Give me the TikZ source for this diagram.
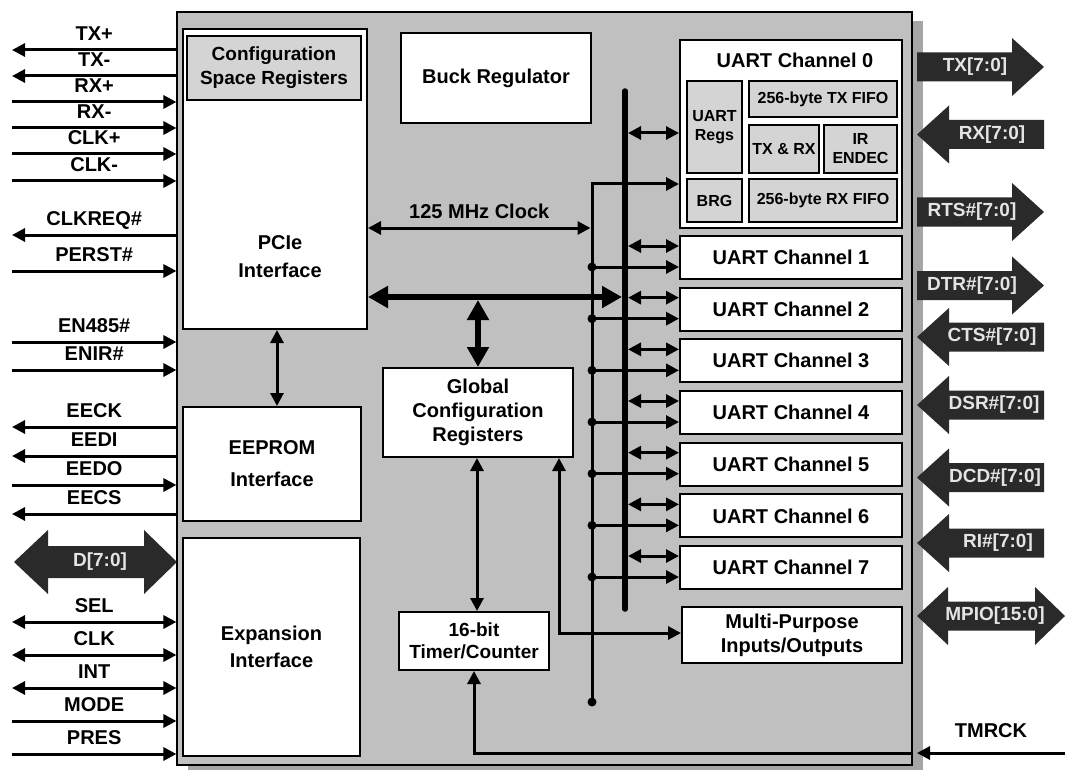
\documentclass[tikz,border=0pt]{standalone}
\usepackage{fontspec}
\setmainfont{Liberation Sans}
\usetikzlibrary{arrows.meta,shadows}

\definecolor{chipgray}{HTML}{C0C0C0}
\definecolor{shadegray}{HTML}{A6A6A6}
\definecolor{subgray}{HTML}{D4D4D4}
\definecolor{busdark}{HTML}{2A2A2A}
\definecolor{buslight}{HTML}{E4E4E4}

\tikzset{
  blk/.style={draw, fill=white, line width=2pt, align=center, inner sep=2pt},
  subblk/.style={blk, fill=subgray, font=\fontsize{16}{19}\selectfont\bfseries},
  sig/.style={line width=3pt, >={Triangle[length=13pt,width=13pt]}},
  fat/.style={line width=5.5pt, >={Triangle[length=20pt,width=21pt]}},
  lbl/.style={inner sep=2pt, text depth=6pt},
  fatlbl/.style={text=buslight, inner sep=0pt, font=\fontsize{19}{22}\selectfont\bfseries},
}

\begin{document}
\begin{tikzpicture}[x=1pt, y=-1pt, font=\fontsize{20}{24}\selectfont\bfseries]
        \useasboundingbox (0,0) rectangle (1065,770);

        % Chip outline with shadow
        \node[draw, line width=1.2pt, fill=chipgray, minimum width=735pt, minimum height=753pt,
              drop shadow={shadow xshift=11pt, shadow yshift=-9pt, fill=shadegray, opacity=1}]
              (chip) at (544.5,388.5) {};

        % PCIe side
        \node[blk, minimum width=184pt, minimum height=300pt] (pcie) at (275,179) {};
        \node[subblk, minimum width=174pt, minimum height=64pt, font=\fontsize{19}{24}\selectfont\bfseries]
              (cfgspace) at (274,68) {Configuration\\Space Registers};
        \node[align=center, font=\fontsize{20}{28}\selectfont\bfseries] (pcielbl) at (280,257) {PCIe\\Interface};
        \node[blk, minimum width=178pt, minimum height=114pt, font=\fontsize{20}{32}\selectfont\bfseries]
              (eeprom) at (272,464) {EEPROM\\Interface};
        \node[blk, minimum width=177pt, minimum height=218pt, font=\fontsize{20}{27}\selectfont\bfseries]
              (expansion) at (271.5,647) {Expansion\\Interface};

        % Middle blocks
        \node[blk, minimum width=190pt, minimum height=90pt] (buck) at (496,78) {Buck Regulator};
        \node[blk, minimum width=190pt, minimum height=89pt] (gcr) at (478,412.5) {Global\\Configuration\\Registers};
        \node[blk, minimum width=150pt, minimum height=58pt, font=\fontsize{19}{22}\selectfont\bfseries]
              (timer) at (474,641) {16-bit\\Timer/Counter};

        % UART channel 0 in detail
        \node[blk, minimum width=222pt, minimum height=188pt] (uart0) at (791,134) {};
        \node (u0title) at (795,60) {UART Channel 0};
        \node[subblk, minimum width=55pt, minimum height=92pt] (uregs) at (714.5,127) {UART\\Regs};
        \node[subblk, minimum width=148pt, minimum height=36pt] (txfifo) at (823,99) {256-byte TX FIFO};
        \node[subblk, minimum width=70pt, minimum height=48pt] (txrx) at (784,149) {TX \& RX};
        \node[subblk, minimum width=73pt, minimum height=48pt] (irendec) at (860.5,149) {IR\\ENDEC};
        \node[subblk, minimum width=55pt, minimum height=43pt] (brg) at (714.5,200.5) {BRG};
        \node[subblk, minimum width=148pt, minimum height=43pt] (rxfifo) at (823,200.5) {256-byte RX FIFO};

        \node[blk, minimum width=220pt, minimum height=56pt] (mpio) at (792,635) {Multi-Purpose\\Inputs/Outputs};

        % Internal bus and control line
        \coordinate (bustop) at (625,91);
        \coordinate (busbot) at (625,609);
        \coordinate (ctltop) at (592,184);
        \coordinate (ctlbot) at (592,702);
        \draw[line width=5.5pt, line cap=round] (bustop) -- (busbot);
        \draw[sig,->] (ctlbot) -- (ctltop) -- (uart0.west |- ctltop);
        \fill (ctlbot) circle (4.5);
        \draw[sig,<->] (628,133) -- (uart0.west |- 0,133);

        % UART channels 1-7
        \foreach \i in {1,...,7} {
          \pgfmathsetmacro{\ytop}{236+51.67*(\i-1)}
          \node[blk, minimum width=222pt, minimum height=43pt] (uart\i) at (791,\ytop+21.5) {UART Channel \i};
          \draw[sig,<->] (628,\ytop+10) -- (uart\i.west |- 0,\ytop+10);
          \draw[sig,->] (592,\ytop+31) -- (uart\i.west |- 0,\ytop+31);
          \fill (592,\ytop+31) circle (4.5);
        }

        % Internal connections
        \draw[sig,<->] (pcie.east |- 0,228) -- (590.5,228) node[lbl, midway, above] (clklbl) {125 MHz Clock};
        \draw[fat,<->] (pcie.east |- 0,297) -- (622,297);
        \draw[fat,<->] (478,300) -- (gcr.north);
        \draw[sig,<->] (pcie.south -| 277,0) -- (eeprom.north -| 277,0);
        \draw[sig,<->] (gcr.south -| 477,0) -- (timer.north -| 477,0);
        \draw[sig,<->] (gcr.south -| 559,0) |- (mpio.west |- 0,633);

        % Timer clock input
        \coordinate (tmrck) at (1065,753);
        \draw[sig,->] (tmrck) -- (917,753) node[lbl, midway, above=6pt] (tmrcklbl) {TMRCK};
        \draw[sig,->] (chip.east |- tmrck) -| (timer.south);

        % Left side signals
        \foreach \y/\sname [count=\k] in {50/TX+, 76/TX-, 235/CLKREQ\#, 427/EECK, 456/EEDI, 514/EECS} {
          \draw[sig,<-] (12,\y) -- (chip.west |- 0,\y) node[lbl, midway, above] (out\k) {\sname};
        }
        \foreach \y/\sname [count=\k] in {102/RX+, 128/RX-, 154/CLK+, 181/CLK-, 271/PERST\#, 342/EN485\#,
                                          370/ENIR\#, 485/EEDO, 721/MODE, 754/PRES} {
          \draw[sig,->] (12,\y) -- (chip.west |- 0,\y) node[lbl, midway, above] (in\k) {\sname};
        }
        \foreach \y/\sname [count=\k] in {622/SEL, 655/CLK, 688/INT} {
          \draw[sig,<->] (12,\y) -- (chip.west |- 0,\y) node[lbl, midway, above] (bi\k) {\sname};
        }

        % Data bus of the expansion interface
        \fill[busdark] (14,562) -- (48,530) -- (48,546) -- (144,546) -- (144,530) -- (177,562)
              -- (144,594) -- (144,578) -- (48,578) -- (48,594) -- cycle;
        \node[fatlbl] (dbus) at (100,562) {D[7:0]};

        % Right side buses
        \foreach \y/\sname/\lx [count=\k] in {67/TX[7:0]/975, 212/RTS\#[7:0]/972, 285.5/DTR\#[7:0]/972} {
          \fill[busdark] (917,\y-14.5) -- (1012,\y-14.5) -- (1012,\y-29) -- (1044,\y) -- (1012,\y+29)
                -- (1012,\y+14.5) -- (917,\y+14.5) -- cycle;
          \node[fatlbl] (busout\k) at (\lx,\y) {\sname};
        }
        \foreach \y/\sname/\lx [count=\k] in {134.5/RX[7:0]/992, 337/CTS\#[7:0]/992, 405/DSR\#[7:0]/994,
                                              477.5/DCD\#[7:0]/995, 543/RI\#[7:0]/998} {
          \fill[busdark] (917,\y) -- (949,\y-29) -- (949,\y-14.5) -- (1044,\y-14.5) -- (1044,\y+14.5)
                -- (949,\y+14.5) -- (949,\y+29) -- cycle;
          \node[fatlbl] (busin\k) at (\lx,\y) {\sname};
        }
        \fill[busdark] (917,616) -- (948,587) -- (948,601.5) -- (1035,601.5) -- (1035,587) -- (1065,616)
              -- (1035,645) -- (1035,630.5) -- (948,630.5) -- (948,645) -- cycle;
        \node[fatlbl] (mpiobus) at (995,616) {MPIO[15:0]};

      \end{tikzpicture}
\end{document}
